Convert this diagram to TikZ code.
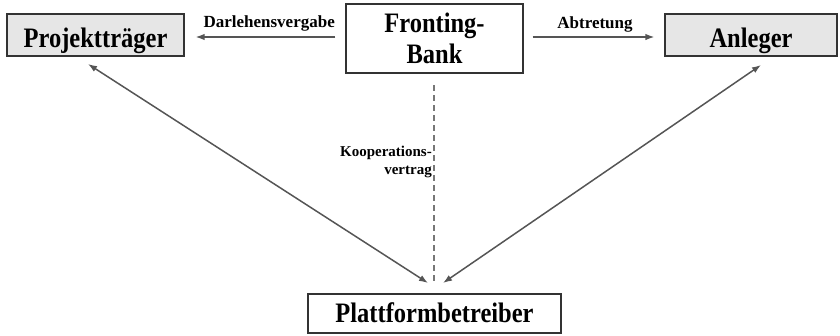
\documentclass[tikz,border=0pt]{standalone}
\usepackage{fontspec}
\usepackage{graphicx}
\setmainfont{Liberation Serif}
\usetikzlibrary{arrows.meta}
\definecolor{boxfill}{HTML}{E6E6E6}
\definecolor{boxline}{HTML}{333333}
\definecolor{arrline}{HTML}{555555}
\newcommand\talltext[1]{\scalebox{1}[1.15]{#1}}
\begin{document}
\begin{tikzpicture}[x=1pt,y=-1pt,
  box/.style={draw=boxline,line width=1.2pt,inner sep=0pt,
    font=\fontsize{24.5}{27.8}\selectfont\bfseries},
  graybox/.style={box,fill=boxfill},
  conn/.style={draw=arrline,line width=1.5pt,-{Latex[length=9pt,width=6.5pt]}},
  biconn/.style={draw=arrline,line width=1.5pt,{Latex[length=9pt,width=6.5pt]}-{Latex[length=9pt,width=6.5pt]}},
  lbl/.style={font=\fontsize{17}{19}\selectfont\bfseries,inner sep=0pt},
  smalllbl/.style={font=\fontsize{15}{18}\selectfont\bfseries,inner sep=0pt}
]
\useasboundingbox (0,0) rectangle (840,335);
\node[graybox,minimum width=177pt,minimum height=42pt,text height=30pt,text depth=4.6pt] (pt) at (95.5,35) {\talltext{Projektträger}};
\node[box,minimum width=177pt,minimum height=69pt,text height=20pt,text depth=33pt] (fb) at (434.5,38.5) {\talltext{\begin{tabular}[t]{@{}c@{}}Fronting-\\Bank\end{tabular}}};
\node[graybox,minimum width=172pt,minimum height=42pt,text height=30pt,text depth=4.6pt] (an) at (751,35) {\talltext{Anleger}};
\node[box,minimum width=253pt,minimum height=39pt,text height=25pt,text depth=6.6pt] (pb) at (434.5,313.5) {\talltext{Plattformbetreiber}};

\draw[conn,shorten <=10pt,shorten >=11pt] (fb.west |- 0,37) -- (pt.east |- 0,37);
\draw[conn,shorten <=9pt,shorten >=10pt] (fb.east |- 0,37) -- (an.west |- 0,37);
\node[lbl,anchor=base east] (l1) at (335,27.5) {Darlehensvergabe};
\node[lbl,anchor=base] (l2) at (595,28) {Abtretung};

\coordinate (a1) at (88,64);
\coordinate (a2) at (428,283);
\coordinate (b1) at (443,283);
\coordinate (b2) at (761,65);
\draw[biconn] (a1) -- (a2);
\draw[biconn] (b1) -- (b2);

\coordinate (d1) at (434,85);
\coordinate (d2) at (434,283);
\draw[draw=arrline!80,line width=1.3pt,dash pattern=on 6pt off 4pt] (d1) -- (d2);
\node[smalllbl,anchor=base east] (l3) at (432,156.5) {\begin{tabular}[t]{@{}r@{}}Kooperations-\\vertrag\end{tabular}};
\end{tikzpicture}
\end{document}
